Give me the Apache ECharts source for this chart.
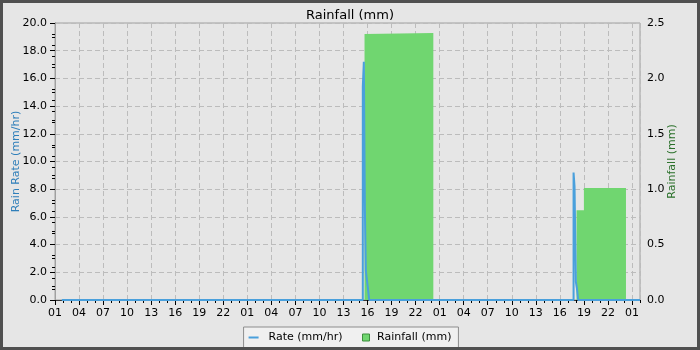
<!DOCTYPE html>
<html><head><meta charset="utf-8">
<script src="https://cdn.jsdelivr.net/npm/echarts@6/dist/echarts.min.js"></script>
<style>html,body{margin:0;padding:0;background:#e6e6e6}#c{width:700px;height:350px}</style>
</head><body><div id="c"></div>
<script>
const titleText = 'Rainfall (mm)';
const rateName = 'Rate (mm/hr)';
const rainName = 'Rainfall (mm)';
const leftAxisName = 'Rain Rate (mm/hr)';
const rightAxisName = 'Rainfall (mm)';
// x values: hours since 01:00 on the first day shown
const startHour = 1;
const xMax = 73;
const rateTimes = [0.85, 38.41, 38.54, 38.67, 38.79, 38.92, 39.04, 39.21, 64.71, 64.83, 65.0, 65.125, 65.29, 73];
const rateValues = [0, 15.4, 17.2, 6.5, 2.1, 1.45, 0.9, 0, 9.2, 8.2, 1.3, 0.85, 0, 0];
const rainTimes = [0.85, 38.625, 38.75, 47.21, 65.08, 66.0, 71.25, 73];
const rainValues = [0, 2.40, 2.41, 0, 0.81, 1.01, 0, 0];
const leftMax = 20, leftInterval = 2;
const rightMax = 2.5, rightInterval = 0.5;

const FONT = 'DejaVu Sans';
const pad = v => String(v).padStart(2, '0');
const rateData = rateTimes.map((t, i) => [t, rateValues[i]]);
const rainData = rainTimes.map((t, i) => [t, rainValues[i]]);

const chart = echarts.init(document.getElementById('c'), null, {renderer: 'canvas'});
chart.setOption({
  animation: false,
  backgroundColor: '#e6e6e6',
  textStyle: {fontFamily: FONT},
  title: {text: titleText, left: 'center', top: 4,
    textStyle: {fontFamily: FONT, fontSize: 13, fontWeight: 'normal', color: '#000'}},
  grid: {left: 55, right: 60, top: 23, bottom: 50, show: true, borderColor: '#a0a0a0', borderWidth: 1,
    backgroundColor: 'transparent', outerBoundsMode: 'none', containLabel: false},
  legend: {
    left: 'center', bottom: 2, orient: 'horizontal',
    padding: [5, 7, 5, 5], itemGap: 14, itemWidth: 15, itemHeight: 10,
    backgroundColor: '#f0f0f0', borderColor: '#8c8c8c', borderWidth: 1,
    textStyle: {fontFamily: FONT, fontSize: 11, color: '#000'},
    data: [
      {name: rateName, icon: 'path://M0,0L0,0M0,4h10v2h-10zM15,10L15,10', itemStyle: {color: '#4aa0dc', borderWidth: 0}},
      {name: rainName, icon: 'path://M0,0L0,0M5.5,1.5h7v7h-7zM15,10L15,10', itemStyle: {color: '#70d670', borderColor: '#3d8f3d', borderWidth: 1}}
    ]
  },
  xAxis: [
    {type: 'value', min: 0, max: xMax, interval: 1,
     axisLine: {show: true, lineStyle: {color: '#333'}},
     axisTick: {show: true, length: 3, lineStyle: {color: '#000'}},
     axisLabel: {show: false}, splitLine: {show: false}},
    {type: 'value', min: 0, max: xMax, interval: 3, position: 'bottom',
     axisLine: {show: false},
     axisTick: {show: true, length: 5, lineStyle: {color: '#000'}},
     axisLabel: {show: true, margin: 8, fontSize: 11, color: '#000', fontFamily: FONT, showMaxLabel: false,
       formatter: v => pad((startHour + v) % 24)},
     splitLine: {show: true, lineStyle: {color: '#bcbcbc', type: [5, 3], width: 1}}}
  ],
  yAxis: [
    {type: 'value', min: 0, max: leftMax, interval: leftInterval, position: 'left',
     name: leftAxisName, nameLocation: 'middle', nameGap: 33, nameRotate: 90, nameMoveOverlap: false,
     nameTextStyle: {color: '#2f7fba', fontSize: 11, fontFamily: FONT},
     axisLine: {show: true, lineStyle: {color: '#8a8a8a'}},
     axisTick: {show: true, length: 5, lineStyle: {color: '#000'}},
     minorTick: {show: true, splitNumber: 2, length: 3, lineStyle: {color: '#000'}},
     axisLabel: {margin: 8, fontSize: 11, color: '#000', fontFamily: FONT, formatter: v => v.toFixed(1)},
     splitLine: {show: true, lineStyle: {color: '#bcbcbc', type: [5, 3], width: 1}}},
    {type: 'value', min: 0, max: rightMax, interval: rightInterval, position: 'right',
     name: rightAxisName, nameLocation: 'middle', nameGap: 27, nameRotate: 90, nameMoveOverlap: false,
     nameTextStyle: {color: '#2a702a', fontSize: 11, fontFamily: FONT},
     axisLine: {show: true, lineStyle: {color: '#a0a0a0'}},
     axisTick: {show: true, inside: true, length: 5, lineStyle: {color: '#000'}},
     minorTick: {show: true, splitNumber: 5, length: 3, lineStyle: {color: '#000'}},
     axisLabel: {margin: 7, fontSize: 11, color: '#000', fontFamily: FONT, formatter: v => v.toFixed(1)},
     splitLine: {show: false}}
  ],
  series: [
    {name: rainName, type: 'line', xAxisIndex: 0, yAxisIndex: 1, step: 'end', data: rainData,
     showSymbol: false, symbol: 'none', clip: false, z: 2,
     lineStyle: {width: 0, color: '#70d670'}, itemStyle: {color: '#70d670'},
     areaStyle: {color: '#70d670', opacity: 1}},
    {name: rateName, type: 'line', xAxisIndex: 0, yAxisIndex: 0, step: 'end', data: rateData,
     showSymbol: false, symbol: 'none', clip: false, z: 3,
     lineStyle: {width: 2, color: '#4aa0dc'}, itemStyle: {color: '#4aa0dc'}}
  ],
  graphic: [{type: 'rect', z: 100, silent: true,
    shape: {x: 1.5, y: 1.5, width: 697, height: 347},
    style: {fill: 'none', stroke: '#505050', lineWidth: 3}}]
});
</script></body></html>
